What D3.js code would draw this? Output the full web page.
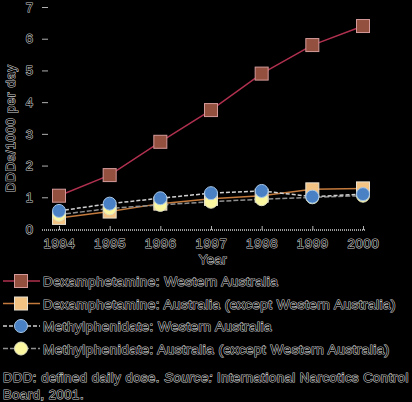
<!DOCTYPE html>
<html>
<head>
<meta charset="utf-8">
<script src="https://cdn.jsdelivr.net/npm/d3@7"></script>
<style>
  body { margin: 0; background: #000; }
  svg { display: block; }
  .t { font-family: "Liberation Sans", Arial, sans-serif; fill: #000; stroke: #c8c8c8; stroke-width: 1.1px; paint-order: stroke; }
</style>
</head>
<body>
<div id="chart"></div>
<script>
const years = [1994, 1995, 1996, 1997, 1998, 1999, 2000];
const dexWA = [1.05, 1.7, 2.75, 3.75, 4.9, 5.8, 6.4];
const dexRest = [0.35, 0.55, 0.8, 0.95, 1.05, 1.25, 1.28];
const methWA = [0.57, 0.8, 0.97, 1.13, 1.2, 1.02, 1.1];
const methRest = [0.45, 0.65, 0.76, 0.86, 0.94, 1.0, 1.05];
const yTicks = [0, 1, 2, 3, 4, 5, 6, 7];

const seriesNames = [
    "Dexamphetamine: Western Australia",
    "Dexamphetamine: Australia (except Western Australia)",
    "Methylphenidate: Western Australia",
    "Methylphenidate: Australia (except Western Australia)"
];

const width = 412, height = 402;

const series = [
    {name: seriesNames[0], values: dexWA, shape: "square", fill: "#94503f", stroke: "#d49a9a", line: "#b0304f", dash: null},
    {name: seriesNames[1], values: dexRest, shape: "square", fill: "#f3c383", stroke: "#e8e0d0", line: "#c47a3c", dash: null},
    {name: seriesNames[2], values: methWA, shape: "circle", fill: "#4a80c4", stroke: "#a8c8e8", line: "#d0d0d0", dash: "4,2"},
    {name: seriesNames[3], values: methRest, shape: "circle", fill: "#fbf7a0", stroke: "#e0e0c0", line: "#909090", dash: "5,2"}
];

const svg = d3.select("#chart").append("svg")
    .attr("width", width)
    .attr("height", height);

const x = d3.scalePoint().domain(years).range([59, 363]);
const y = d3.scaleLinear().domain([0, 7]).range([229, 7]);

// x axis
svg.append("line")
    .attr("x1", 42).attr("x2", 366)
    .attr("y1", 230).attr("y2", 230)
    .attr("stroke", "#9a9a9a")
    .attr("stroke-width", 2)
    .attr("stroke-dasharray", "1,1");

const xAxis = svg.append("g")
    .attr("transform", "translate(0,230)")
    .call(d3.axisBottom(x).tickSizeInner(-4).tickSizeOuter(0).tickPadding(8));
xAxis.select(".domain").remove();
xAxis.selectAll(".tick line").attr("stroke", "#b0b0b0");
xAxis.selectAll(".tick text")
    .attr("class", "t")
    .attr("font-size", "13px")
    .attr("letter-spacing", "0.8px")
    .attr("dy", "0.75em");

// y axis
const yAxis = svg.append("g")
    .attr("transform", "translate(48,0)")
    .call(d3.axisLeft(y).tickValues(yTicks).tickFormat(d3.format("d")).tickSize(6).tickPadding(9));
yAxis.select(".domain").remove();
yAxis.selectAll(".tick line").attr("stroke", "#b0b0b0");
yAxis.selectAll(".tick text")
    .attr("class", "t")
    .attr("font-size", "13px");
yAxis.selectAll(".tick").filter(d => d === 0).select("line").remove();

svg.append("text")
    .attr("class", "t")
    .attr("transform", "translate(15,128) rotate(-90)")
    .attr("text-anchor", "middle")
    .attr("font-size", "13px")
    .attr("letter-spacing", "0.8px")
    .text("DDDs/1000 per day");

svg.append("text")
    .attr("class", "t")
    .attr("x", 213).attr("y", 264)
    .attr("text-anchor", "middle")
    .attr("font-size", "13px")
    .attr("letter-spacing", "0.5px")
    .text("Year");

const line = d3.line()
    .x((d, i) => x(years[i]))
    .y(d => y(d));

function marker(g, s, cx, cy) {
    if (s.shape === "square") {
        g.append("rect")
            .attr("x", cx - 6.5).attr("y", cy - 6.5)
            .attr("width", 13).attr("height", 13)
            .attr("fill", s.fill)
            .attr("stroke", s.stroke)
            .attr("stroke-width", 1);
    } else {
        g.append("circle")
            .attr("cx", cx).attr("cy", cy)
            .attr("r", 6.5)
            .attr("fill", s.fill)
            .attr("stroke", s.stroke)
            .attr("stroke-width", 1);
    }
}

// draw order: back to front
[1, 3, 2, 0].forEach(k => {
    const s = series[k];
    const g = svg.append("g");
    g.append("path")
        .attr("d", line(s.values))
        .attr("fill", "none")
        .attr("stroke", s.line)
        .attr("stroke-width", 1.5)
        .attr("stroke-dasharray", s.dash);
    s.values.forEach((v, i) => marker(g, s, x(years[i]), y(v)));
});

// legend
const legend = svg.append("g");
series.forEach((s, i) => {
    const ly = 281 + i * 22.5;
    const row = legend.append("g");
    row.append("line")
        .attr("x1", 3).attr("x2", 40)
        .attr("y1", ly).attr("y2", ly)
        .attr("stroke", s.line)
        .attr("stroke-width", 1.5)
        .attr("stroke-dasharray", s.dash);
    marker(row, s, 21, ly);
    row.append("text")
        .attr("class", "t")
        .attr("x", 43).attr("y", ly + 5)
        .attr("font-size", "13.5px")
        .attr("letter-spacing", "0.5px")
        .text(s.name);
});

// footnote
const note = svg.append("text")
    .attr("class", "t")
    .attr("font-size", "13px")
    .attr("letter-spacing", "0.55px");
note.append("tspan").attr("x", 3).attr("y", 382).text("DDD: defined daily dose. ");
note.append("tspan").attr("font-style", "italic").text("Source:");
note.append("tspan").text(" International Narcotics Control");
note.append("tspan").attr("x", 3).attr("y", 399).text("Board, 2001.");
</script>
</body>
</html>
